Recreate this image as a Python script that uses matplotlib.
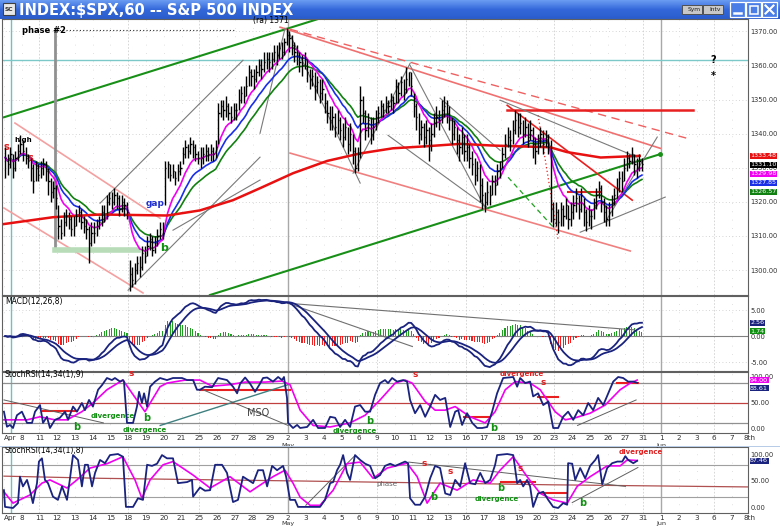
import numpy as np
import pandas as pd
import matplotlib
matplotlib.use("Agg")
import matplotlib.pyplot as plt
from matplotlib.patches import Rectangle

# ---- x axis: one slot per trading day (Apr 7 .. Jun 8) ----
day_labels = ['Apr', '8', '11', '12', '13', '14', '15', '18', '19', '20', '21',
              '25', '26', '27', '28', '29', '2', '3', '4', '5', '6', '9', '10',
              '11', '12', '13', '16', '17', '18', '19', '20', '23', '24', '25',
              '26', '27', '31', '1', '2', '3', '6', '7', '8th']
month_labels = {16: 'May', 37: 'Jun'}
week_starts = [2, 7, 11, 21, 26, 31, 36, 40]
month_starts = [16, 37]
bars_per_day = 7

# ---- hourly SPX bars, Apr 7 .. May 27 (7 per day) ----
closes = [
    1333, 1331, 1334, 1330, 1333, 1335, 1337,
    1335, 1333, 1332, 1330, 1326, 1330, 1328,
    1330, 1331, 1329, 1326, 1323, 1324, 1321,
    1313, 1311, 1314, 1316, 1315, 1312, 1313,
    1316, 1317, 1314, 1313, 1312, 1308, 1311,
    1311, 1313, 1314, 1317, 1316, 1320, 1321,
    1320, 1322, 1321, 1318, 1320, 1319, 1317,
    1299, 1297, 1300, 1302, 1301, 1305, 1304,
    1307, 1309, 1306, 1308, 1310, 1312, 1311,
    1330, 1331, 1328, 1329, 1327, 1329, 1330,
    1334, 1336, 1335, 1337, 1336, 1334, 1333,
    1333, 1334, 1335, 1334, 1335, 1334, 1336,
    1346, 1348, 1347, 1348, 1346, 1345, 1347,
    1347, 1350, 1352, 1351, 1354, 1358, 1357,
    1356, 1358, 1360, 1359, 1361, 1362, 1361,
    1362, 1364, 1363, 1365, 1364, 1367, 1369,
    1368, 1366, 1364, 1363, 1361, 1360, 1362,
    1358, 1356, 1357, 1354, 1355, 1352, 1353,
    1349, 1346, 1344, 1345, 1342, 1344, 1341,
    1339, 1342, 1337, 1340, 1335, 1330, 1334,
    1350, 1346, 1341, 1344, 1340, 1342, 1345,
    1346, 1348, 1347, 1349, 1348, 1350, 1349,
    1354, 1352, 1355, 1353, 1356, 1358, 1354,
    1348, 1345, 1340, 1342, 1339, 1341, 1338,
    1340, 1343, 1345, 1344, 1347, 1348, 1346,
    1344, 1340, 1342, 1338, 1336, 1339, 1335,
    1336, 1333, 1331, 1328, 1330, 1325, 1322,
    1320, 1323, 1322, 1326, 1325, 1329, 1330,
    1334, 1337, 1339, 1338, 1341, 1344, 1342,
    1343, 1340, 1342, 1339, 1341, 1337, 1335,
    1338, 1340, 1337, 1339, 1336, 1318, 1315,
    1317, 1314, 1318, 1316, 1319, 1315, 1317,
    1319, 1321, 1318, 1322, 1317, 1314, 1316,
    1316, 1319, 1322, 1324, 1320, 1317, 1315,
    1317, 1320, 1322, 1324, 1327, 1326, 1330,
    1333, 1332, 1334, 1331, 1330, 1332, 1331.1,
]
highs = [
    1336, 1334, 1336, 1334, 1335, 1337, 1339.5,
    1338, 1336, 1334, 1333, 1331, 1332, 1331,
    1332, 1333, 1332, 1330, 1327, 1326, 1325,
    1319, 1315, 1317, 1318, 1317, 1316, 1316,
    1318, 1319, 1318, 1316, 1315, 1313, 1314,
    1314, 1315, 1316, 1319, 1319, 1322, 1323,
    1323, 1324, 1323, 1322, 1322, 1321, 1320,
    1303, 1301, 1302, 1304, 1304, 1307, 1307,
    1310, 1311, 1310, 1310, 1312, 1314, 1314,
    1332, 1332, 1331, 1331, 1329, 1331, 1332,
    1336, 1338, 1337, 1339, 1338, 1337, 1335,
    1336, 1336, 1337, 1336, 1337, 1336, 1338,
    1349, 1350, 1350, 1351, 1349, 1348, 1349,
    1349, 1353, 1354, 1354, 1357, 1360, 1359,
    1359, 1360, 1362, 1362, 1364, 1364, 1364,
    1364, 1366, 1366, 1367, 1367, 1368, 1371,
    1370, 1369, 1367, 1366, 1364, 1363, 1364,
    1362, 1359, 1359, 1358, 1357, 1356, 1356,
    1352, 1350, 1348, 1348, 1346, 1347, 1345,
    1343, 1345, 1342, 1343, 1340, 1336, 1336,
    1354, 1351, 1347, 1346, 1345, 1345, 1347,
    1348, 1350, 1349, 1351, 1350, 1352, 1351,
    1356, 1355, 1357, 1356, 1359.5, 1358, 1358,
    1352, 1349, 1346, 1344, 1343, 1344, 1342,
    1343, 1346, 1348, 1347, 1350, 1351, 1350,
    1348, 1345, 1344, 1342, 1340, 1342, 1340,
    1340, 1337, 1335, 1333, 1332, 1331, 1327,
    1323, 1326, 1325, 1328, 1328, 1331, 1332,
    1336, 1340, 1342, 1341, 1344, 1347, 1346,
    1346, 1344, 1345, 1343, 1344, 1342, 1339,
    1340, 1342, 1341, 1341, 1340, 1338, 1320,
    1320, 1318, 1320, 1319, 1321, 1319, 1320,
    1322, 1324, 1322, 1324, 1321, 1318, 1319,
    1318, 1321, 1324, 1326, 1325, 1321, 1319,
    1320, 1322, 1324, 1327, 1329, 1329, 1333,
    1335, 1334, 1336, 1334, 1333, 1334, 1333,
]
lows = [
    1327, 1328, 1330, 1327, 1329, 1332, 1334,
    1332, 1331, 1330, 1326, 1322.5, 1326, 1326,
    1327, 1328, 1326, 1322, 1320, 1321, 1318,
    1309, 1309, 1310, 1313, 1312, 1310, 1310,
    1313, 1314, 1312, 1311, 1309, 1302, 1307,
    1308, 1310, 1312, 1313, 1314, 1315, 1319,
    1318, 1319, 1318, 1316, 1317, 1316, 1315,
    1294, 1295, 1296, 1299, 1298, 1300, 1302,
    1304, 1306, 1304, 1305, 1307, 1309, 1309,
    1319, 1327, 1326, 1327, 1325, 1326, 1328,
    1331, 1333, 1333, 1334, 1333, 1332, 1331,
    1330, 1331, 1332, 1332, 1332, 1332, 1333,
    1337, 1345, 1344, 1345, 1344, 1343, 1344,
    1344, 1347, 1349, 1349, 1351, 1354, 1354,
    1353, 1355, 1357, 1356, 1358, 1359, 1358,
    1359, 1361, 1360, 1362, 1362, 1363, 1366,
    1364, 1363, 1361, 1360, 1358, 1357, 1359,
    1355, 1353, 1354, 1350, 1352, 1349, 1350,
    1346, 1343, 1341, 1341, 1339, 1340, 1338,
    1336, 1338, 1334, 1335, 1331, 1328.5, 1329,
    1333, 1343, 1338, 1339, 1337, 1338, 1341,
    1343, 1345, 1345, 1346, 1346, 1347, 1346,
    1349, 1349, 1351, 1350, 1352, 1354, 1351,
    1345, 1341, 1337, 1338, 1336, 1337, 1332,
    1335, 1339, 1342, 1341, 1343, 1345, 1343,
    1341, 1337, 1338, 1334, 1332, 1334, 1332,
    1332, 1330, 1328, 1325, 1326, 1320, 1318,
    1317, 1319, 1319, 1322, 1322, 1325, 1327,
    1330, 1333, 1336, 1335, 1337, 1340, 1339,
    1340, 1337, 1339, 1336, 1338, 1333, 1331,
    1334, 1336, 1334, 1336, 1334, 1314, 1312.5,
    1313, 1311, 1313, 1313, 1315, 1312, 1313,
    1315, 1317, 1315, 1317, 1313, 1311.5, 1313,
    1312, 1315, 1318, 1321, 1317, 1314, 1313,
    1313, 1316, 1319, 1321, 1323, 1323, 1326,
    1329, 1330, 1331, 1328, 1327, 1329, 1329,
]

# long (200 hr) average: day position, price
red_ma_day = [0.0, 2.76, 5.41, 9.2, 11.04, 12.9, 14.42, 16.28, 18.2, 20.06,
              21.9, 23.8, 25.7, 27.55, 30.76, 31.7, 33.6, 35.8]
red_ma_val = [1313.5, 1315.5, 1316.3, 1316.0, 1317.5, 1320.5, 1324.0, 1328.4,
              1332.0, 1334.2, 1335.7, 1336.3, 1337.0, 1336.5, 1336.0, 1334.6,
              1333.0, 1333.48]

# StochRSI(14,34(1),9)
st1_day = [0.0, 0.17, 0.34, 0.51, 0.73, 1.01, 1.30, 1.58, 1.75, 2.03,
           2.20, 2.42, 2.59, 2.87, 3.15, 3.44, 3.61, 3.89, 4.11, 4.39,
           4.56, 4.79, 5.01, 5.30, 5.52, 5.80, 6.08, 6.25, 6.54, 6.70,
           6.76, 6.93, 7.27, 7.49, 7.61, 7.77, 7.89, 8.06, 8.23, 8.51,
           8.79, 9.18, 9.52, 10.03, 10.31, 10.65, 10.87, 11.04, 11.32, 11.72,
           12.06, 12.56, 12.90, 13.13, 13.30, 13.58, 13.86, 14.14, 14.42, 14.59,
           14.82, 15.15, 15.44, 15.66, 15.77, 15.94, 16.00, 16.28, 16.51, 16.68,
           17.07, 17.41, 17.69, 18.08, 18.37, 18.65, 18.93, 19.21, 19.49, 19.77,
           20.06, 20.34, 20.62, 20.90, 21.18, 21.46, 21.63, 21.86, 22.14, 22.48,
           22.70, 22.87, 23.15, 23.44, 23.72, 24.00, 24.28, 24.56, 24.85, 25.13,
           25.41, 25.58, 25.80, 26.08, 26.37, 26.65, 26.93, 27.21, 27.49, 27.77,
           28.11, 28.68, 28.90, 29.07, 29.35, 29.63, 29.80, 30.08, 30.37, 30.65,
           30.93, 31.21, 31.49, 31.77, 32.06, 32.34, 32.62, 32.90, 33.18, 33.46,
           33.75, 34.03, 34.31, 34.59, 34.87, 35.15, 35.44, 35.66]
st1_val = [32, 2.5, 6, 0, 25, 32, 10, 10, 32, 45,
           10, 22, 0, 16, 20, 32, 16, 42, 32, 49,
           35, 55, 42, 75, 84, 98, 94, 98, 91, 94,
           91, 10, 10, 42, 71, 49, 68, 42, 81, 91,
           98, 94, 98, 98, 94, 94, 75, 75, 81, 80,
           98, 94, 81, 68, 87, 99, 87, 71, 87, 98,
           99, 91, 100, 94, 100, 59, 10, 0, 6, 0,
           2, 16, 0, 0, 22, 20, 2, 16, 2, 42,
           45, 32, 32, 65, 88, 94, 88, 98, 91, 94,
           91, 55, 29, 45, 22, 42, 65, 55, 59, 2,
           32, 35, 6, 29, 10, 0, 0, 2, 32, 68,
           98, 100, 81, 98, 88, 91, 62, 68, 45, 52,
           0, 0, 22, 32, 16, 35, 25, 49, 35, 59,
           45, 68, 91, 100, 98, 91, 91, 88.61]
st1_sig_day = [0.0, 1.30, 2.03, 2.87, 3.55, 4.39, 5.01, 5.80, 6.70, 7.38,
               7.94, 8.79, 9.18, 10.20, 11.04, 11.72, 12.73, 13.58, 14.70, 15.66,
               16.11, 16.68, 17.41, 18.37, 19.49, 20.34, 21.18, 22.03, 22.59, 22.99,
               23.72, 24.28, 24.85, 25.41, 26.25, 27.10, 27.66, 28.23, 28.79, 29.63,
               30.20, 31.04, 31.61, 32.17, 33.01, 33.86, 34.70, 35.27, 35.66]
st1_sig_val = [16, 16, 22, 16, 16, 32, 49, 75, 94, 60,
               32, 81, 88, 94, 94, 82, 85, 90, 90, 92,
               85, 35, 5, 2, 10, 25, 55, 88, 94, 88,
               52, 35, 35, 42, 22, 10, 32, 75, 91, 88,
               75, 32, 16, 20, 29, 45, 75, 88, 94]

# StochRSI(14,34(1),8)
st2_day = [0.0, 0.06, 0.51, 0.79, 0.90, 1.07, 1.30, 1.46, 1.63, 1.86,
           1.97, 2.14, 2.31, 2.48, 2.76, 3.04, 3.27, 3.55, 3.72, 3.89,
           4.17, 4.39, 4.56, 4.73, 4.96, 5.13, 5.41, 5.69, 5.97, 6.42,
           6.70, 6.87, 7.27, 7.55, 7.83, 8.06, 8.34, 8.62, 8.90, 9.18,
           9.52, 9.80, 10.31, 10.59, 10.65, 11.04, 11.32, 11.61, 11.89, 12.28,
           12.56, 12.90, 13.18, 13.46, 13.75, 14.03, 14.31, 14.59, 14.82, 15.10,
           15.38, 15.72, 15.89, 16.11, 16.39, 16.56,
           17.24, 17.80, 18.08, 18.37, 18.54, 18.76, 18.93, 19.10, 19.32,
           19.49, 19.77, 20.06, 20.34, 20.62, 20.90, 21.18, 21.46, 21.75, 22.03,
           22.31, 22.59, 22.76, 22.87, 23.15, 23.44, 23.72, 24.00, 24.28, 24.56,
           24.85, 25.13, 25.41, 25.69, 25.97, 26.25, 26.54, 26.82, 27.10, 27.38,
           27.66, 27.77, 28.34, 28.68, 28.90, 29.07, 29.24, 29.46, 29.63, 29.80,
           30.08, 30.37, 30.65, 30.93, 31.21, 31.49, 31.72, 31.77, 32.00, 32.17,
           32.45, 32.73, 33.01, 33.30, 33.46, 33.69, 33.97, 34.25, 34.54, 34.82,
           34.99, 35.15, 35.44, 35.66]
st2_val = [33, 2, 0, 9, 58, 40, 52, 33, 9, 46,
           86, 92, 52, 46, 21, 15, 40, 15, 55, 98,
           89, 40, 80, 80, 40, 65, 89, 83, 98, 100,
           95, 2, 2, 18, 15, 80, 78, 82, 98, 92,
           92, 46, 48, 52, 21, 38, 32, 33, 80, 80,
           65, 11, 15, 58, 52, 46, 70, 70, 40, 78,
           70, 78, 58, 15, 15, 2,
           2, 2, 15, 46, 48, 70, 80, 98, 65,
           52, 98, 89, 82, 78, 55, 61, 78, 82, 78,
           82, 86, 83, 18, 6, 6, 21, 55, 78, 74,
           27, 24, 52, 40, 83, 46, 44, 65, 46, 52,
           80, 98, 100, 98, 46, 52, 40, 52, 40, 2,
           27, 30, 15, 2, 0, 9, 6, 83, 82, 52,
           74, 55, 78, 89, 98, 44, 74, 83, 86, 86,
           96, 89, 83, 87.46]
st2_sig_day = [0.0, 0.51, 1.46, 2.14, 2.59, 3.55, 4.11, 4.85, 5.80, 6.70,
               7.38, 7.77, 8.23, 8.96, 9.52, 10.65, 11.61, 12.73, 13.86, 14.59,
               15.15, 15.83, 16.28, 16.68, 17.24, 17.80, 18.54, 19.32, 20.06, 20.79,
               21.58, 22.70, 23.27, 23.83, 24.56, 25.52, 26.42, 27.38, 27.94, 28.68,
               29.46, 30.20, 30.93, 31.72, 32.28, 33.01, 33.97, 34.70, 35.10, 35.66]
st2_sig_val = [30, 9, 24, 46, 52, 37, 52, 74, 82, 95,
               52, 18, 52, 80, 86, 61, 37, 58, 30, 46,
               58, 70, 46, 20, 5, 5, 33, 82, 85, 55,
               74, 83, 58, 9, 46, 33, 52, 46, 70, 95,
               58, 27, 15, 9, 40, 58, 78, 78, 89, 88]
st2_slow_day = [0.0, 5.41, 16.68, 30.76, 41.9]
st2_slow_val = [59, 55, 50, 43, 39]

# ---------------------------------------------------------------------
W, H = 780, 526
fig = plt.figure(figsize=(W / 100, H / 100), dpi=100)
fig.patch.set_facecolor('#ffffff')

XMIN, XMAX = -0.11, 41.9
NAVY = '#1a237e'
TICKFONT = 4.8
TAGFONT = 4.6


def box(x0, y0, x1, y1):
    return fig.add_axes([x0 / W, 1 - y1 / H, (x1 - x0) / W, (y1 - y0) / H])


def value_tags(a, items, px_per_unit, gap_px=9.0):
    # stack last-value boxes on the right scale so they do not overlap
    items = sorted(items, key=lambda t: -t[0])
    placed = []
    for v, fc in items:
        y = v
        if placed and (placed[-1] - y) * px_per_unit < gap_px:
            y = placed[-1] - gap_px / px_per_unit
        placed.append(y)
        a.annotate('%.2f' % v, xy=(1.0, y), xycoords=('axes fraction', 'data'),
                   xytext=(1.5, 0), textcoords='offset points', fontsize=TAGFONT,
                   color='white', va='center', ha='left',
                   bbox=dict(boxstyle='square,pad=0.08', fc=fc, ec='none'),
                   annotation_clip=False)


# title bar
tb = box(0, 0, W, 19)
grad = np.linspace(0, 1, 50).reshape(-1, 1)
tb.imshow(grad, aspect='auto', cmap=matplotlib.colors.LinearSegmentedColormap.from_list(
    'tb', ['#6a9cf2', '#3468da', '#2a5ccc']), extent=[0, W, 19, 0])
tb.set_xlim(0, W)
tb.set_ylim(19, 0)
tb.axis('off')
tb.add_patch(Rectangle((3, 3), 12, 12, fc='#e8e8e8', ec='#404040', lw=0.8))
tb.text(4.3, 9.5, 'SC', fontsize=4.3, color='#303030', va='center', weight='bold')
tb.text(19, 10, r'INDEX:\$SPX,60 -- S&P 500 INDEX', color='white', fontsize=10.5,
        weight='bold', va='center')
for bx, lab in [(682, 'Sym'), (703, 'Intv')]:
    tb.add_patch(Rectangle((bx, 5), 20, 9, fc='#c8c8c8', ec='#505050', lw=0.7))
    tb.text(bx + 12, 9.8, lab, fontsize=4.3, color='#202020', ha='center', va='center')
for bx in [730, 746, 762]:
    tb.add_patch(Rectangle((bx, 2), 15, 15, fc='#4a7ee6', ec='white', lw=0.9))
tb.plot([734, 741], [13, 13], color='white', lw=1.8)
tb.add_patch(Rectangle((749.5, 5.5), 8, 8, fc='none', ec='white', lw=1.1))
tb.plot([765.5, 773.5], [5.5, 13.5], color='white', lw=1.5)
tb.plot([765.5, 773.5], [13.5, 5.5], color='white', lw=1.5)

ax = box(2, 19, 748, 295)
axm = box(2, 296, 748, 371)
ax1 = box(2, 372, 748, 433)
ax2 = box(2, 447, 748, 513)
ax1.set_zorder(3)
ax2.set_zorder(2)

# ---- bars and averages ----
n = len(closes)
xb = np.array([i // bars_per_day + (i % bars_per_day + 0.5) / bars_per_day for i in range(n)])
c = pd.Series(closes, dtype=float)
ma_fast = c.ewm(span=9, adjust=True).mean()
ma_mid = c.ewm(span=16, adjust=True).mean()
ma_slow = c.ewm(span=24, adjust=True).mean()

for a in (ax, axm, ax1, ax2):
    a.set_xlim(XMIN, XMAX)
    a.set_facecolor('white')
    for d in range(len(day_labels)):
        if d in month_starts:
            a.axvline(d, color='#a8a8a8', lw=1.0, zorder=0)
        elif d in week_starts:
            a.axvline(d, color='#d0d0d0', lw=0.6, ls=(0, (2, 2)), zorder=0)
        else:
            a.axvline(d, color='#d8d8d8', lw=0.6, ls=(0, (1, 9)), zorder=0)
    a.axvline(0.39, color='#70c0c0', lw=1.0, zorder=0)
    a.tick_params(axis='both', length=0, labelsize=TICKFONT, colors='#303030', pad=2)
    a.yaxis.tick_right()
    a.set_xticks([])
    for s in a.spines.values():
        s.set_color('#606060')
        s.set_linewidth(0.8)

ax.set_ylim(1292.7, 1373.6)
yt = [1300, 1310, 1320, 1330, 1340, 1350, 1360, 1370]
ax.set_yticks(yt)
ax.set_yticklabels(['%.2f' % v for v in yt])
for v in yt:
    ax.axhline(v, color='#c8c8c8', lw=0.6, ls=(0, (1, 3)), zorder=0)

ax.axhline(1361.6, color='#7cc8c8', lw=1.0, zorder=1)
ax.vlines(xb, lows, highs, color='black', lw=1.0, zorder=4)
ax.hlines(closes, xb, xb + 0.07, color='black', lw=1.0, zorder=4)
ax.plot(xb, ma_slow, color='#108010', lw=1.2, zorder=3)
ax.plot(xb, ma_mid, color='#1a2ee8', lw=1.2, zorder=3)
ax.plot(xb, ma_fast, color='#f000f0', lw=1.2, zorder=3)
ax.plot(red_ma_day, red_ma_val, color='#e81010', lw=1.8, zorder=3)

# trend lines drawn on the chart (day, price)
green_lines = [([0.0, 17.63], [1344.8, 1373.5]), ([11.6, 36.96], [1292.7, 1334.0])]
for xs, ys in green_lines:
    ax.plot(xs, ys, color='#189018', lw=1.5, zorder=2)
ax.plot([36.96], [1334.0], marker='o', ms=2.5, color='#189018', zorder=2)
ax.plot([16.11, 38.42], [1370.6, 1338.7], color='#f06060', lw=1.0, ls=(0, (6, 4)), zorder=2)
ax.plot([15.55, 36.96], [1371.2, 1335.7], color='#f07070', lw=1.2, zorder=2)
ax.plot([16.11, 35.27], [1334.3, 1305.6], color='#f08080', lw=1.2, zorder=2)
ax.plot([28.34, 38.82], [1346.9, 1346.9], color='#e82020', lw=1.8, zorder=2)
ax.plot([28.34, 35.38], [1348.3, 1320.5], color='#e82020', lw=1.2, zorder=2)
ax.plot([30.08, 31.21], [1345.4, 1308.8], color='#e82020', lw=0.9, ls=(0, (1, 2)), zorder=2)
ax.plot([28.39, 30.93], [1327.2, 1312.6], color='#20a020', lw=0.9, ls=(0, (4, 3)), zorder=2)
ax.plot([31.77, 33.58], [1322.8, 1322.8], color='#e82020', lw=1.5, zorder=2)
ax.plot([0.62, 8.79], [1343.1, 1315.2], color='#f4a0a0', lw=1.2, zorder=2)
ax.plot([0.0, 7.83], [1318.2, 1293.3], color='#f4a0a0', lw=1.2, zorder=2)
grey_lines = [([5.41, 13.46], [1319.6, 1361.5]), ([6.99, 14.42], [1294.1, 1333.1]),
              ([9.52, 14.42], [1311.7, 1326.4]), ([14.42, 15.83], [1340.1, 1370.9]),
              ([15.94, 20.06], [1370.9, 1325.5]), ([19.66, 22.87], [1328.4, 1360.6]),
              ([22.87, 27.10], [1360.0, 1318.2]), ([21.63, 27.21], [1339.5, 1318.4]),
              ([24.56, 27.94], [1350.4, 1335.1]), ([27.94, 35.66], [1349.8, 1333.1]),
              ([32.45, 37.24], [1311.1, 1321.4]), ([33.86, 36.79], [1314.1, 1339.0])]
for xs, ys in grey_lines:
    ax.plot(xs, ys, color='#7a7a7a', lw=0.8, zorder=2)
ax.plot([2.87, 2.87], [1306.1, 1370.3], color='#909090', lw=2.0, zorder=2)
ax.plot([2.93, 13.07], [1370.3, 1370.3], color='#303030', lw=0.8, ls=(0, (1, 2)), zorder=2)
ax.plot([2.87, 7.55], [1306.0, 1306.0], color='#b8dcb8', lw=4.0, zorder=2)

ax.text(1.0, 1370.3, 'phase #2', fontsize=6, weight='bold', va='center')
ax.text(14.0, 1373.3, '(ra) 1371', fontsize=5.5, va='center')
ax.text(0.6, 1338.0, 'high', fontsize=5, weight='bold', va='center')
ax.text(0.0, 1336.0, 's', fontsize=7, weight='bold', color='#e02020', va='center')
ax.text(1.3, 1333.0, 's', fontsize=7, weight='bold', color='#e02020', va='center')
ax.text(8.0, 1319.5, 'gap', fontsize=6.5, weight='bold', color='#2030d0', va='center')
ax.text(8.8, 1306.5, 'b', fontsize=8, weight='bold', color='#109010', va='center')
ax.text(39.8, 1361.5, '?', fontsize=7, weight='bold', va='center')
ax.text(39.8, 1357.0, '*', fontsize=7, weight='bold', va='center')

value_tags(ax, [(red_ma_val[-1], '#e81010'), (closes[-1], 'black'),
                (ma_fast.iloc[-1], '#f000f0'), (ma_mid.iloc[-1], '#1a2ee8'),
                (ma_slow.iloc[-1], '#108010')], 3.414)

# ---- MACD(12,26,8) ----
macd = c.ewm(span=12, adjust=False).mean() - c.ewm(span=26, adjust=False).mean()
sig = macd.ewm(span=8, adjust=False).mean()
hist = macd - sig
axm.set_ylim(-6.7, 7.7)
axm.set_yticks([-5, 0, 5])
axm.set_yticklabels(['-5.00', '0.00', '5.00'])
for v in [-5, 5]:
    axm.axhline(v, color='#c8c8c8', lw=0.6, ls=(0, (1, 3)), zorder=0)
axm.axhline(0, color='#808080', lw=0.8, zorder=1)
axm.bar(xb, hist, width=0.06, color=np.where(hist >= 0, '#20a020', '#f02020'), zorder=2)
axm.plot(xb, macd, color=NAVY, lw=1.3, zorder=3)
axm.plot(xb, sig, color=NAVY, lw=1.3, zorder=3)
axm.plot([16.0, 35.5], [6.3, 1.2], color='#707070', lw=0.8)
axm.plot([16.0, 23.0], [6.3, -2.0], color='#707070', lw=0.8)
axm.text(0.05, 6.6, 'MACD(12,26,8)', fontsize=5.5, va='center')
value_tags(axm, [(macd.iloc[-1], NAVY), (sig.iloc[-1], '#109010')], 5.2, gap_px=8.4)

# ---- StochRSI panels ----
ax1.set_ylim(-9.8, 109.8)
ax2.set_ylim(-9.3, 113.0)
for a in (ax1, ax2):
    a.set_yticks([0, 50, 100])
    a.set_yticklabels(['0.00', '50.00', '100.00'])
ax1.axhline(88, color='#909090', lw=0.9)
ax1.axhline(10, color='#909090', lw=0.9)
ax1.axhline(50, color='#c04040', lw=0.9)
ax2.axhline(80, color='#a0a0a0', lw=0.8)
ax2.axhline(20, color='#a0a0a0', lw=0.8)
ax2.plot(st2_slow_day, st2_slow_val, color='#b05050', lw=0.9)

ax1.plot(st1_sig_day, st1_sig_val, color='#f000f0', lw=1.2, zorder=3)
ax1.plot(st1_day, st1_val, color=NAVY, lw=1.3, zorder=4)
ax2.plot(st2_sig_day, st2_sig_val, color='#f000f0', lw=1.2, zorder=3)
ax2.plot(st2_day, st2_val, color=NAVY, lw=1.3, zorder=4)
ax1.text(0.05, 104, 'StochRSI(14,34(1),9)', fontsize=5.5, va='center')
ax2.text(0.05, 106, 'StochRSI(14,34(1),8)', fontsize=5.5, va='center')

# notes on the stoch panels (day, value)
ax1.plot([2.2, 4.1], [33, 33], color='#e82020', lw=1.5)
ax1.plot([11.04, 16.1], [74, 74], color='#e82020', lw=1.5)
ax1.plot([25.9, 27.3], [22, 22], color='#e82020', lw=1.5)
ax1.plot([30.1, 31.2], [60, 60], color='#e82020', lw=1.5)
ax1.plot([34.5, 35.7], [88, 88], color='#e82020', lw=1.5)
ax1.plot([0.0, 5.6], [55, 10], color='#606060', lw=0.7)
ax1.plot([8.8, 16.0], [5, 85], color='#408080', lw=1.0)
ax1.plot([11.2, 16.0], [75, 5], color='#606060', lw=0.7)
ax1.plot([32.3, 35.6], [5, 55], color='#606060', lw=0.7)
ax1.text(7.0, 106, 's', color='#e02020', fontsize=6.5, weight='bold', va='center')
ax1.text(23.0, 104, 's', color='#e02020', fontsize=6.5, weight='bold', va='center')
ax1.text(30.2, 89, 's', color='#e02020', fontsize=6.5, weight='bold', va='center')
ax1.text(27.9, 106, 'divergence', color='#e02020', fontsize=5, weight='bold', va='center')
ax1.text(3.9, 2, 'b', color='#109010', fontsize=7, weight='bold', va='center')
ax1.text(7.85, 20, 'b', color='#109010', fontsize=7, weight='bold', va='center')
ax1.text(20.4, 13, 'b', color='#109010', fontsize=7, weight='bold', va='center')
ax1.text(27.4, 0, 'b', color='#109010', fontsize=7, weight='bold', va='center')
ax1.text(4.9, 23, 'divergence', color='#109010', fontsize=5, weight='bold', va='center')
ax1.text(6.7, -4, 'divergence', color='#109010', fontsize=5, weight='bold', va='center')
ax1.text(18.5, -5, 'divergence', color='#109010', fontsize=5, weight='bold', va='center')
ax1.text(13.7, 30, 'MSO', color='#404040', fontsize=7, va='center')

ax2.plot([28.0, 29.9], [48, 48], color='#e82020', lw=1.5)
ax2.plot([30.3, 31.7], [28, 28], color='#e82020', lw=1.5)
ax2.plot([17.0, 19.7], [5, 95], color='#606060', lw=0.7)
ax2.plot([22.8, 35.0], [85, 40], color='#606060', lw=0.7)
ax2.plot([32.0, 35.7], [10, 75], color='#606060', lw=0.7)
ax2.text(23.5, 83, 's', color='#e02020', fontsize=6.5, weight='bold', va='center')
ax2.text(25.0, 67, 's', color='#e02020', fontsize=6.5, weight='bold', va='center')
ax2.text(28.9, 73, 's', color='#e02020', fontsize=6.5, weight='bold', va='center')
ax2.text(34.6, 104, 'divergence', color='#e02020', fontsize=5, weight='bold', va='center')
ax2.text(24.0, 20, 'b', color='#109010', fontsize=7, weight='bold', va='center')
ax2.text(27.8, 37, 'b', color='#109010', fontsize=7, weight='bold', va='center')
ax2.text(32.4, 10, 'b', color='#109010', fontsize=7, weight='bold', va='center')
ax2.text(26.5, 16, 'divergence', color='#109010', fontsize=5, weight='bold', va='center')
ax2.text(21.0, 45, 'phase', color='#606060', fontsize=5, va='center')

value_tags(ax1, [(st1_sig_val[-1], '#f000f0'), (st1_val[-1], NAVY)], 0.51, gap_px=8.4)
value_tags(ax2, [(st2_val[-1], NAVY)], 0.54)

# date labels under both stoch panels
for a, mpos in ((ax1, -0.17), (ax2, -0.115)):
    for d, lab in enumerate(day_labels):
        xd = 0.35 if d == 0 else d
        a.text(xd, -0.03, lab, transform=a.get_xaxis_transform(), fontsize=5.2,
               ha='center', va='top', color='#303030', clip_on=False)
    for d, lab in month_labels.items():
        a.text(d, mpos, lab, transform=a.get_xaxis_transform(), fontsize=4.6,
               ha='center', va='top', color='#303030', clip_on=False)

# separator strip between the stoch panels
fig.patches.append(Rectangle((0, 1 - 447 / H), 1, 1.5 / H, transform=fig.transFigure,
                             fc='#b8cce8', ec='none', zorder=5))

fig.savefig('out.png', dpi=100)
